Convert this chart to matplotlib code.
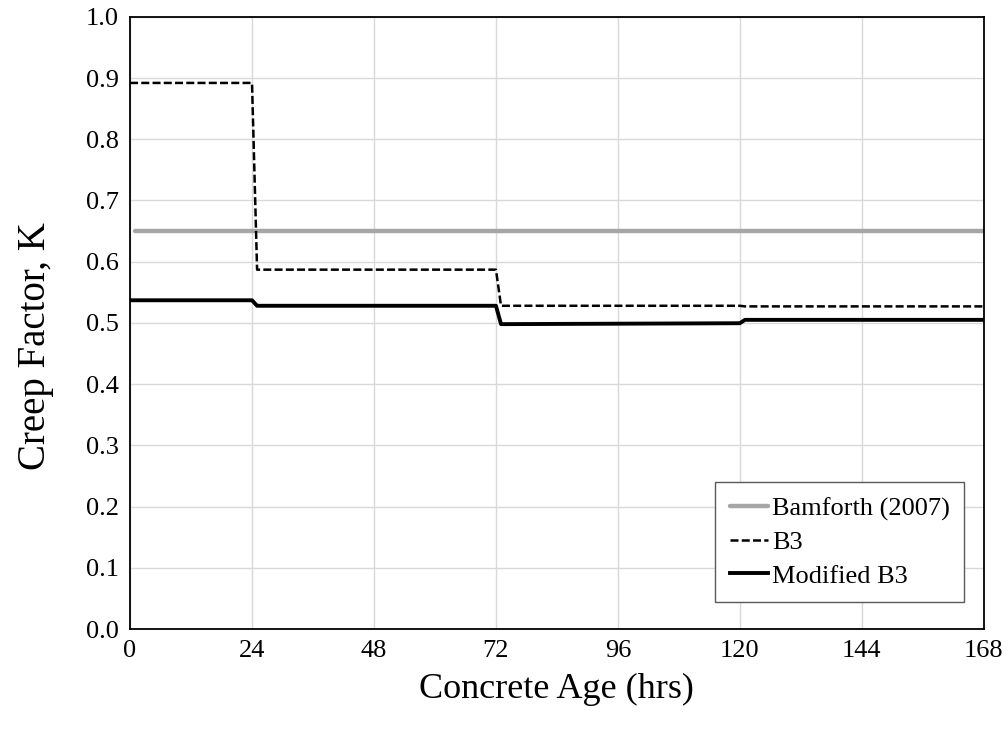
import numpy as np
import matplotlib.pyplot as plt

# step data (hours, creep factor)
hours = [0, 24, 25, 72, 73, 120, 121, 168]
b3 = [0.892, 0.892, 0.587, 0.587, 0.528, 0.528, 0.527, 0.527]
mod_b3 = [0.537, 0.537, 0.528, 0.528, 0.498, 0.4995, 0.505, 0.505]
bam_hours = [1, 168]
bamforth = [0.65, 0.65]

xticks = [0, 24, 48, 72, 96, 120, 144, 168]
yticks = np.arange(0, 1.01, 0.1)


def main():
	plt.rcParams['font.family'] = ['Liberation Serif', 'DejaVu Serif']
	fig = plt.figure(figsize=(10.08, 7.31), dpi=100)
	ax = fig.add_axes([0.129, 0.1395, 0.847, 0.8375])

	ax.plot(bam_hours, bamforth, color='#a6a6a6', lw=3.2, solid_capstyle='round', label='Bamforth (2007)')
	ax.plot(hours, b3, color='black', lw=1.8, ls=(0, (3.2, 1.3)), label='B3')
	ax.plot(hours, mod_b3, color='black', lw=2.8, label='Modified B3')

	ax.set_xlim(0, 168)
	ax.set_ylim(0, 1.0)
	ax.set_xticks(xticks)
	ax.set_yticks(yticks)
	ax.set_yticklabels(['%.1f' % v for v in yticks])
	ax.tick_params(length=0, labelsize=19, pad=8)
	ax.grid(True, color='#d9d9d9', lw=1)
	ax.set_axisbelow(True)
	for s in ax.spines.values():
		s.set_color('black')
		s.set_linewidth(1.3)

	ax.set_xlabel('Concrete Age (hrs)', fontsize=26, labelpad=8)
	ax.set_ylabel('Creep Factor, K', fontsize=28)
	ax.yaxis.set_label_coords(-0.089, 0.462)

	leg = ax.legend(loc='lower right', bbox_to_anchor=(0.977, 0.044), fontsize=19,
		handlelength=1.45, handletextpad=0.15, labelspacing=0.38, borderpad=0.55,
		borderaxespad=0, fancybox=False, framealpha=1)
	leg.get_frame().set_edgecolor('#595959')
	leg.get_frame().set_linewidth(1)

	fig.savefig('out.png', dpi=100)


if __name__ == '__main__':
	main()
